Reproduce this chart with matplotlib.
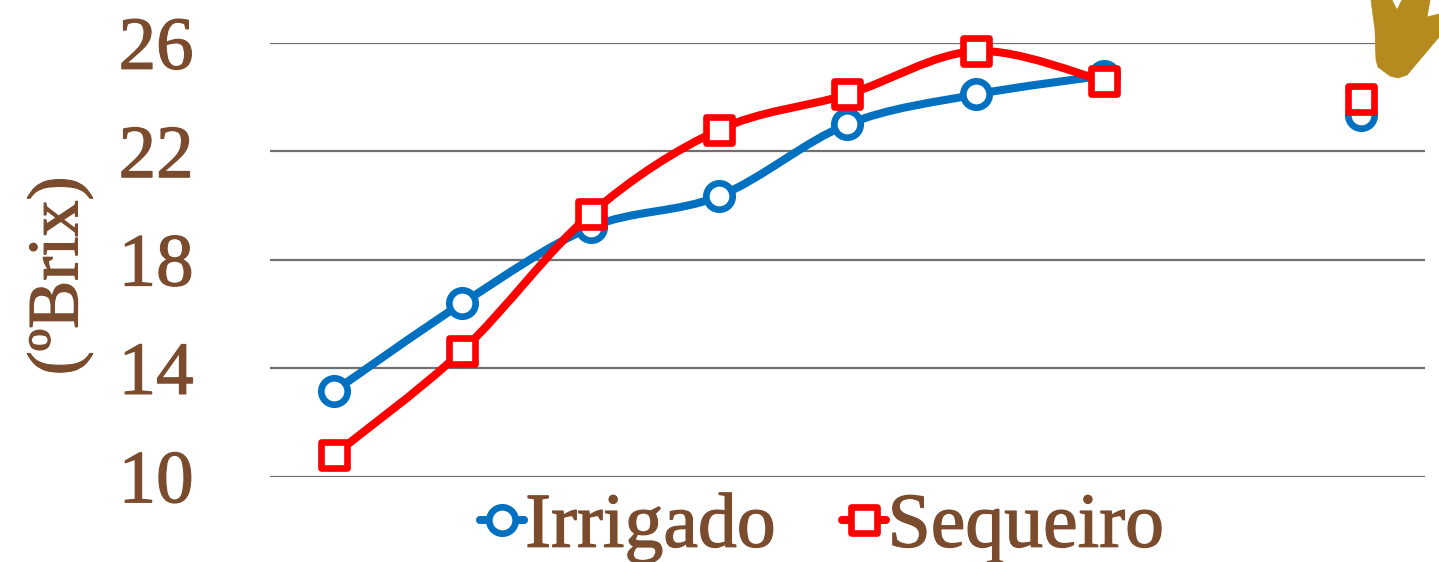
import numpy as np
import matplotlib
matplotlib.use("Agg")
import matplotlib.pyplot as plt
import matplotlib.patheffects as pe
from matplotlib.markers import MarkerStyle
from matplotlib.path import Path
from matplotlib.patches import PathPatch
from matplotlib.lines import Line2D

plt.rcParams['font.family'] = ['Liberation Serif', 'DejaVu Serif']

# sampling dates (no labels on the axis), index 7 has no reading
positions = [0, 1, 2, 3, 4, 5, 6, 7, 8]
irrigado = [13.15, 16.4, 19.2, 20.35, 23.0, 24.1, 24.8, np.nan, 23.35]
sequeiro = [10.8, 14.65, 19.7, 22.8, 24.1, 25.7, 24.6, np.nan, 23.95]
yticks = [10, 14, 18, 22, 26]

BROWN = '#7b4b2d'
BLUE = '#0070c0'
RED = '#ff0000'
GOLD = '#b58a1e'
LINE_W = 5.8
MARK_W = 4.8
# the original font is heavier than Liberation Serif
HEAVY = [pe.withStroke(linewidth=0.9, foreground=BROWN)]


def smooth_path(x, y):
    # spreadsheet style smoothed line, one bezier per segment
    verts = [(x[0], y[0])]
    codes = [Path.MOVETO]
    for i in range(len(x) - 1):
        x0, y0 = (x[i - 1], y[i - 1]) if i > 0 else (x[i], y[i])
        x3, y3 = (x[i + 2], y[i + 2]) if i + 2 < len(x) else (x[i + 1], y[i + 1])
        c1 = (x[i] + (x[i + 1] - x0) / 6, y[i] + (y[i + 1] - y0) / 6)
        c2 = (x[i + 1] - (x3 - x[i]) / 6, y[i + 1] - (y3 - y[i]) / 6)
        verts += [c1, c2, (x[i + 1], y[i + 1])]
        codes += [Path.CURVE4] * 3
    return Path(verts, codes)


def draw_series(ax, values, color, marker, z):
    x = np.array(positions, dtype=float)
    y = np.array(values, dtype=float)
    ok = ~np.isnan(y)
    # the line stops at the gap, the last point stays alone
    end = np.argmax(~ok)
    ax.add_patch(PathPatch(smooth_path(x[:end], y[:end]), fc='none', ec=color,
                           lw=LINE_W, capstyle='round', zorder=z, clip_on=False))
    ax.plot(x[ok], y[ok], ls='none', marker=MarkerStyle(marker, joinstyle='round'), ms=19,
            mfc='white', mec=color, mew=MARK_W, zorder=z + 0.5, clip_on=False)


fig = plt.figure(figsize=(14.39, 5.62), dpi=100)
ax = fig.add_axes([270 / 1439, 1 - 476.5 / 562, (1425 - 270) / 1439, (476.5 - 43) / 562])

draw_series(ax, irrigado, BLUE, 'o', 3)
draw_series(ax, sequeiro, RED, 's', 4)

ax.set_xlim(-0.5, 8.5)
ax.set_ylim(10, 26)
ax.set_xticks([])
ax.set_yticks(yticks)
ax.yaxis.grid(True, color='#707070', lw=1.6)
ax.set_axisbelow(True)
ax.tick_params(axis='y', length=0, pad=55, labelsize=54, labelcolor=BROWN)
for label in ax.get_yticklabels():
    label.set_path_effects(HEAVY)
for s in ax.spines.values():
    s.set_visible(False)

fig.text(60 / 1439, 1 - 276 / 562, '(ºBrix)', rotation=90, color=BROWN, fontsize=52,
         ha='center', va='center', path_effects=HEAVY)

handles = [
    Line2D([], [], color=BLUE, lw=LINE_W, marker=MarkerStyle('o', joinstyle='round'), ms=19,
           mfc='white', mec=BLUE, mew=MARK_W, solid_capstyle='round'),
    Line2D([], [], color=RED, lw=LINE_W, marker=MarkerStyle('s', joinstyle='round'), ms=19,
           mfc='white', mec=RED, mew=MARK_W, solid_capstyle='round'),
]
leg = fig.legend(handles, ['Irrigado', 'Sequeiro'], loc='center', ncol=2,
                 bbox_to_anchor=(822 / 1439, 1 - 528 / 562), frameon=False, fontsize=56,
                 labelcolor=BROWN, handlelength=0.56, handletextpad=0.02, columnspacing=0.86,
                 borderpad=0, borderaxespad=0)
for t in leg.get_texts():
    t.set_path_effects(HEAVY)

# piece of a decoration that sits in the top right corner
gold_px = [(1371, 0), (1392, 0), (1397, 10), (1402, 0), (1430, 0), (1427, 17), (1439, 14),
           (1439, 37), (1407, 75), (1398, 78), (1390, 76), (1378, 67), (1376, 60), (1375, 30)]
gold = [(px / 1439, 1 - py / 562) for px, py in gold_px]
ax.add_patch(plt.Polygon(gold, closed=True, fc=GOLD, ec=GOLD, lw=0.5, joinstyle='round',
                         transform=fig.transFigure, clip_on=False, zorder=6))

fig.savefig('out.png', dpi=100, facecolor='white')
